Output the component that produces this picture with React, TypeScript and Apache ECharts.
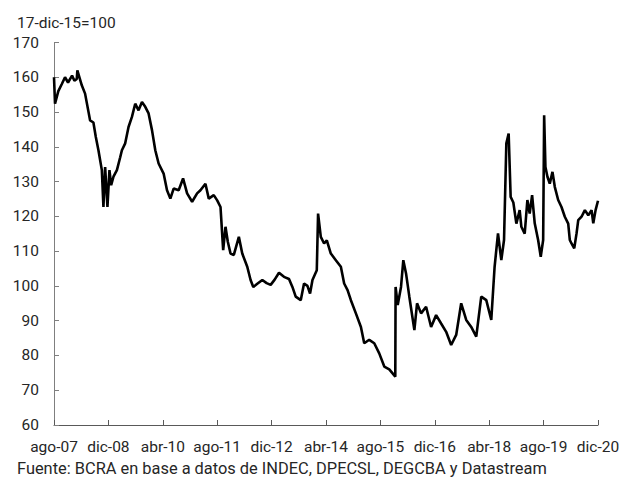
import React, { useEffect, useRef } from "react";
import * as echarts from "echarts";

const xLabels = ["ago-07", "dic-08", "abr-10", "ago-11", "dic-12", "abr-14", "ago-15", "dic-16", "abr-18", "ago-19", "dic-20"];
const yTitle = "17-dic-15=100";
const footnote = "Fuente: BCRA en base a datos de INDEC, DPECSL, DEGCBA y Datastream";

// months since ago-07
const months = [
  0, 0.3, 1.27, 2.27, 3.24, 4.13, 5.31, 6.0, 6.7, 6.87, 8.17, 9.14, 10.62, 11.59, 12.3, 13.07, 14.07, 14.54, 15.04, 15.72,
  16.31, 16.81, 17.49, 18.5, 19.47, 19.97, 20.94, 21.92, 22.92, 23.89, 24.87, 25.87, 26.84, 27.82, 28.82, 29.79, 30.77,
  32.24, 33.24, 34.22, 35.19, 36.67, 37.96, 39.15, 40.62, 42.09, 43.07, 44.54, 45.52, 46.99, 48.0, 48.97, 49.76, 50.44,
  51.12, 51.92, 52.89, 54.37, 55.37, 56.84, 57.82, 58.61, 59.79, 61.27, 62.54, 63.72, 64.9, 66.17, 67.64, 69.12, 70.12,
  71.09, 72.57, 73.54, 74.54, 75.31, 76.02, 77.29, 77.67, 78.47, 79.44, 80.24, 81.42, 82.89, 84.37, 85.34, 86.34, 87.32,
  88.79, 90.27, 91.24, 92.71, 94.19, 95.66, 97.14, 98.61, 100.38, 100.47, 101.09, 102.06, 102.74, 103.54, 104.51, 105.99,
  106.78, 107.96, 109.44, 110.91, 112.39, 113.86, 115.34, 116.81, 118.29, 119.76, 121.24, 122.71, 124.19, 125.66, 127.14,
  128.61, 129.59, 130.59, 131.56, 132.36, 133.04, 133.72, 134.31, 135.1, 135.99, 136.96, 137.46, 138.44, 139.23, 139.91,
  140.62, 141.39, 142.39, 143.16, 143.87, 144.16, 144.54, 145.13, 145.81, 146.61, 147.29, 148.29, 149.26, 150.24, 151.24,
  151.71, 152.21, 153.01, 153.69, 154.19, 155.16, 156.14, 157.14, 158.11, 158.61, 159.29, 160.0,
];

const values = [
  160, 152.4, 156, 158, 160, 158.5, 160.5, 159, 159.5, 162, 157.7, 155.3, 147.6, 147, 142.8, 139, 133.3, 122.7, 134.2, 122.7,
  133.3, 129, 131.4, 133.3, 137, 139, 141, 145.7, 148.6, 152.4, 150.5, 152.9, 151.5, 149.6, 144.8, 139, 135.2,
  132.3, 127.5, 125.1, 128, 127.5, 130.9, 126.6, 124.2, 126.6, 127.5, 129.4, 125.1, 126.1, 124.6, 122.7, 110.3, 117,
  112.7, 109.3, 108.9, 114.1, 109.3, 105.5, 101.7, 99.7, 100.6, 101.7, 100.8, 100.3, 101.8, 103.8, 102.6, 102, 99.7,
  96.9, 95.9, 100.7, 100, 97.8, 101.7, 104.5, 120.8, 114.1, 112.2, 113.1, 109.3, 107.4, 105.5, 100.7, 98.8, 95.9,
  92.1, 88.2, 83.5, 84.5, 83.5, 80.6, 76.8, 76, 73.9, 99.7, 94.5, 99.7, 107.4, 103.6, 96.9, 87.3,
  95, 92.1, 94, 88.2, 91.6, 89.2, 86.8, 83, 85.9, 95, 90.2, 88.2, 85.4, 96.9, 95.9,
  90.2, 105.5, 115.1, 107.4, 113.2, 141, 143.8, 125.6, 124, 117.9, 121.8, 117, 115, 124.7, 120.8,
  126.1, 118, 113.2, 108.4, 113.2, 149.1, 134.2, 131.4, 129.4, 132.8, 128.5, 124.7, 122.7, 119.9, 117.9,
  113.2, 112.2, 110.8, 115.1, 118.9, 119.9, 121.8, 120.3, 121.8, 118, 121.8, 124.5,
];

export default function App() {
  const ref = useRef<HTMLDivElement>(null);
  useEffect(() => {
    if (!ref.current) return;
    const chart = echarts.init(ref.current, null, { renderer: "svg" });
    const data = months.map((m, i) => [m, values[i]]);
    const font = "Roboto, sans-serif";
    chart.setOption({
      animation: false,
      backgroundColor: "#ffffff",
      title: {
        text: yTitle,
        left: 12,
        top: 10,
        textStyle: { fontFamily: font, fontSize: 15.5, fontWeight: "normal", color: "#262626" },
      },
      graphic: [
        {
          type: "text",
          left: 17,
          top: 460,
          style: { text: footnote, fontFamily: font, fontSize: 16.4, fill: "#262626" },
        },
      ],
      grid: { left: 54, right: 36, top: 42.5, bottom: 56, containLabel: false },
      xAxis: {
        type: "value",
        min: 0,
        max: 160,
        interval: 16,
        splitLine: { show: false },
        axisLine: { lineStyle: { color: "#595959", width: 1 } },
        axisTick: { inside: true, length: 5, lineStyle: { color: "#595959" } },
        axisLabel: {
          formatter: (v: number) => xLabels[Math.round(v / 16)] ?? "",
          fontFamily: font,
          fontSize: 15.5,
          color: "#262626",
          margin: 14,
        },
      },
      yAxis: {
        type: "value",
        min: 60,
        max: 170,
        interval: 10,
        splitLine: { show: false },
        axisLine: { show: true, lineStyle: { color: "#7f7f7f", width: 1 } },
        axisTick: { show: true, inside: true, length: 5, lineStyle: { color: "#7f7f7f" } },
        axisLabel: { fontFamily: font, fontSize: 15.5, color: "#262626", margin: 15 },
      },
      series: [
        {
          type: "line",
          data,
          showSymbol: false,
          symbol: "none",
          lineStyle: { color: "#000000", width: 2.6 },
        },
      ],
    });
    return () => chart.dispose();
  }, []);
  return <div ref={ref} style={{ position: "fixed", left: 0, top: 0, width: 634, height: 481 }} />;
}
